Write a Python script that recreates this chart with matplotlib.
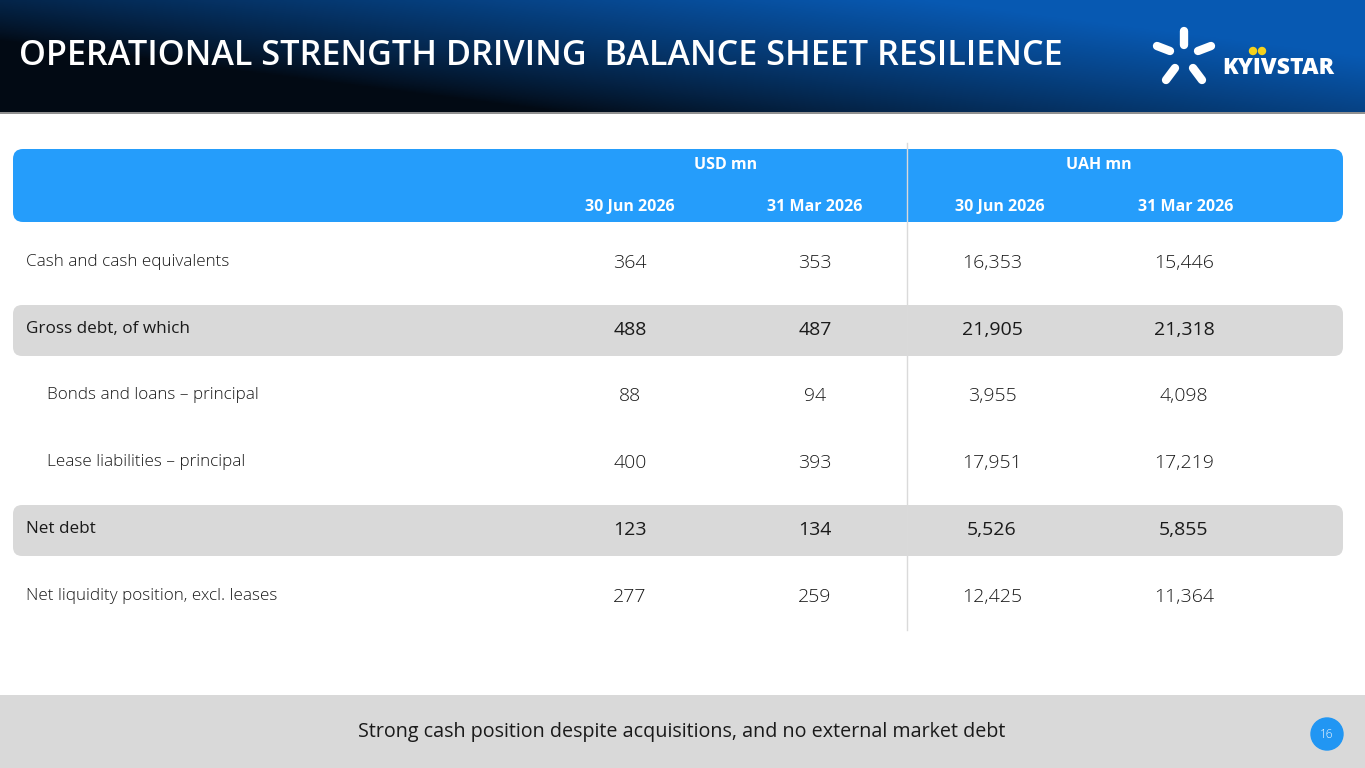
import numpy as np
import matplotlib.pyplot as plt
from matplotlib.patches import FancyBboxPatch, Rectangle, Circle

plt.rcParams['font.family'] = ['Open Sans', 'DejaVu Sans']

# Данные таблицы
titulo = "OPERATIONAL STRENGTH DRIVING  BALANCE SHEET RESILIENCE"
grupos = ["USD mn", "UAH mn"]
fechas = ["30 Jun 2026", "31 Mar 2026", "30 Jun 2026", "31 Mar 2026"]
filas = ["Cash and cash equivalents", "Gross debt, of which",
         "Bonds and loans \u2013 principal", "Lease liabilities \u2013 principal",
         "Net debt", "Net liquidity position, excl. leases"]
usd_jun = [364, 488, 88, 400, 123, 277]
usd_mar = [353, 487, 94, 393, 134, 259]
uah_jun = [16353, 21905, 3955, 17951, 5526, 12425]
uah_mar = [15446, 21318, 4098, 17219, 5855, 11364]
resaltadas = [False, True, False, False, True, False]
sangria = [False, False, True, True, False, False]
pie = "Strong cash position despite acquisitions, and no external market debt"
pagina = "16"

W, H = 1365, 768
fig = plt.figure(figsize=(W / 100, H / 100), dpi=100)
ax = fig.add_axes([0, 0, 1, 1])
ax.set_xlim(0, W)
ax.set_ylim(H, 0)
ax.axis('off')

# Cabecera con degradado
gx = np.linspace(0, 1, 400)
gy = np.linspace(0, 1, 60)
xx, yy = np.meshgrid(gx, gy)
t = np.clip(1.1 * xx + 0.7 * (1 - yy) - 0.45, 0, 1) ** 0.8
oscuro = np.array([0.01, 0.04, 0.08])
azul = np.array([0.03, 0.35, 0.70])
img = oscuro + (azul - oscuro) * t[..., None]
ax.imshow(img, extent=(0, W, 112, 0), aspect='auto', zorder=0)
ax.plot([0, W], [112.5, 112.5], color='#7a7a7a', lw=1.2, zorder=1)
ax.text(19, 56, titulo, color='white', fontsize=24.6, fontweight='semibold',
        va='center', ha='left')

# Logo
for (x0, y0, x1, y1) in [(1184, 31, 1184, 45), (1157, 46, 1170, 51), (1198, 51, 1211, 46),
                         (1166, 80, 1175, 68), (1193, 68, 1202, 80)]:
    ax.plot([x0, x1], [y0, y1], color='white', lw=6, solid_capstyle='round')
ax.text(1278, 68, "KYIVSTAR", color='white', fontsize=16.5, fontweight='heavy',
        ha='center', va='center')
ax.add_patch(Circle((1253, 51), 3.5, color='#f6d21c', zorder=3))
ax.add_patch(Circle((1262, 51), 3.5, color='#f6d21c', zorder=3))

# Encabezado de la tabla
ax.add_patch(FancyBboxPatch((13, 149), 1330, 73, boxstyle="round,pad=0,rounding_size=10",
                            fc='#259dfb', ec='none', zorder=1))
for i, g in enumerate(grupos):
    ax.text([726, 1099][i], 165, g, color='white', fontsize=11.5, fontweight='bold',
            ha='center', va='center', zorder=3)
xcab = [630, 815, 1000, 1186]
for xc, f in zip(xcab, fechas):
    ax.text(xc, 207, f, color='white', fontsize=11.5, fontweight='bold',
            ha='center', va='center', zorder=3)

# Filas
ys = [262, 329, 395, 462, 529, 596]
xval = [630, 815, 992, 1184]
for i, nombre in enumerate(filas):
    y = ys[i]
    if resaltadas[i]:
        ax.add_patch(FancyBboxPatch((13, y - 24), 1330, 51,
                                    boxstyle="round,pad=0,rounding_size=9",
                                    fc='#d9d9d9', ec='none', zorder=1))
        peso = 'normal'
    else:
        peso = 'light'
    xl = 47 if sangria[i] else 26
    ax.text(xl, y, nombre, color='#1a1a1a', fontsize=12.3, fontweight=peso,
            ha='left', va='center', zorder=3)
    vals = [usd_jun[i], usd_mar[i], uah_jun[i], uah_mar[i]]
    for xc, v in zip(xval, vals):
        ax.text(xc, y + 1, f"{v:,}", color='#1a1a1a', fontsize=14, fontweight=peso,
                ha='center', va='center', zorder=3)

# Línea divisoria
ax.plot([907, 907], [143, 630], color='#dadada', lw=1, zorder=2)

# Pie de página
ax.add_patch(Rectangle((0, 695), W, 73, fc='#d9d9d9', ec='none', zorder=1))
ax.text(682, 732, pie, color='#1a1a1a', fontsize=14.2, ha='center', va='center', zorder=3)
ax.add_patch(Circle((1327, 734), 16, color='#2196f3', zorder=3))
ax.text(1327, 734, pagina, color='white', fontsize=8.5, fontweight='light',
        ha='center', va='center', zorder=4)

fig.savefig('out.png', dpi=100)
